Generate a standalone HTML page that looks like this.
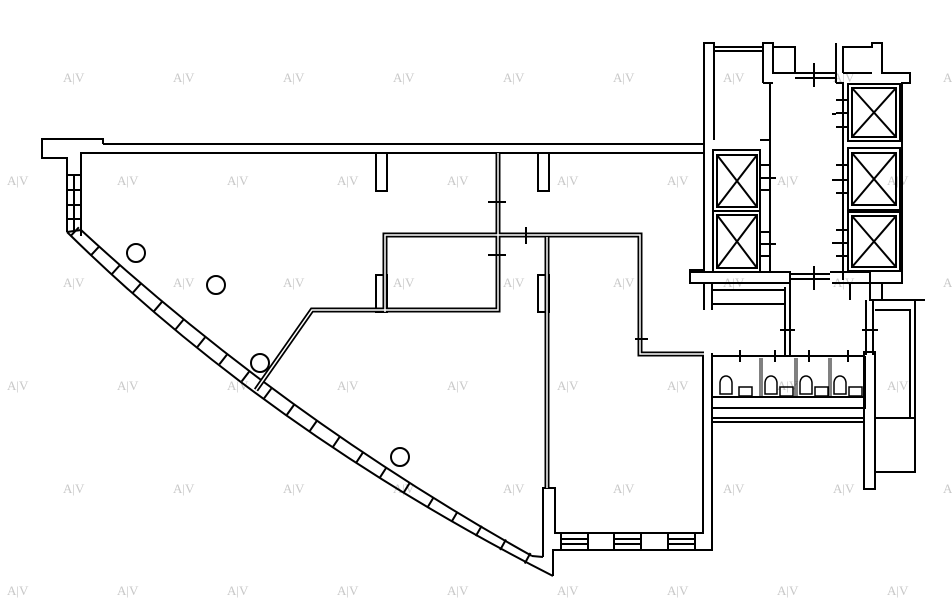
<!DOCTYPE html>
<html><head><style>
html,body{margin:0;padding:0;background:#fff;width:952px;height:609px;overflow:hidden}
svg{display:block}
.w{font-family:"Liberation Serif",serif;font-size:13px;fill:#c8c8c8}
</style></head><body>
<svg width="952" height="609" viewBox="0 0 952 609" xmlns="http://www.w3.org/2000/svg">
<g class="w">
<text x="63" y="82">A|V</text><text x="173" y="82">A|V</text><text x="283" y="82">A|V</text><text x="393" y="82">A|V</text><text x="503" y="82">A|V</text><text x="613" y="82">A|V</text><text x="723" y="82">A|V</text><text x="833" y="82">A|V</text><text x="943" y="82">A|V</text>
<text x="7" y="185">A|V</text><text x="117" y="185">A|V</text><text x="227" y="185">A|V</text><text x="337" y="185">A|V</text><text x="447" y="185">A|V</text><text x="557" y="185">A|V</text><text x="667" y="185">A|V</text><text x="777" y="185">A|V</text><text x="887" y="185">A|V</text>
<text x="63" y="287">A|V</text><text x="173" y="287">A|V</text><text x="283" y="287">A|V</text><text x="393" y="287">A|V</text><text x="503" y="287">A|V</text><text x="613" y="287">A|V</text><text x="723" y="287">A|V</text><text x="833" y="287">A|V</text><text x="943" y="287">A|V</text>
<text x="7" y="390">A|V</text><text x="117" y="390">A|V</text><text x="227" y="390">A|V</text><text x="337" y="390">A|V</text><text x="447" y="390">A|V</text><text x="557" y="390">A|V</text><text x="667" y="390">A|V</text><text x="777" y="390">A|V</text><text x="887" y="390">A|V</text>
<text x="63" y="493">A|V</text><text x="173" y="493">A|V</text><text x="283" y="493">A|V</text><text x="393" y="493">A|V</text><text x="503" y="493">A|V</text><text x="613" y="493">A|V</text><text x="723" y="493">A|V</text><text x="833" y="493">A|V</text><text x="943" y="493">A|V</text>
<text x="7" y="595">A|V</text><text x="117" y="595">A|V</text><text x="227" y="595">A|V</text><text x="337" y="595">A|V</text><text x="447" y="595">A|V</text><text x="557" y="595">A|V</text><text x="667" y="595">A|V</text><text x="777" y="595">A|V</text><text x="887" y="595">A|V</text>
</g>
<g fill="none" stroke="#000" stroke-width="2">
<!-- top outer wall -->
<path d="M103,144 H704 V153 H81 V236 M103,144 V139 H42 V158 H67 V232"/>
<path d="M67,175 H81 M67,190 H81 M67,205 H81 M67,219 H81 M74,175 V232"/>
<!-- curved wall -->
<path d="M67,232 Q270,432 553,576"/>
<path d="M81,230 Q285,418 532,556"/>
<path d="M74,231 Q278,425 542,566" stroke-width="12" stroke-dasharray="2 26"/>
<path d="M67,232 L81,230"/>
<!-- right end of curve, column -->
<path d="M553,576 V550 H712 V353 M543,557 V488 H555 V533 H703 V356"/>
<path d="M532,556 L543,557"/>
<!-- bottom windows -->
<path d="M561,533 V550 M588,533 V550 M614,533 V550 M641,533 V550 M668,533 V550 M695,533 V550"/>
<path d="M561,539 H588 M561,544 H588 M614,539 H641 M614,544 H641 M668,539 H695 M668,544 H695"/>
<!-- right side of top wall -->
<path d="M704,153 V270 H690 V283 H704 V310 M712,283 V310"/>
<!-- pillars -->
<rect x="376" y="153" width="11" height="38"/>
<rect x="538" y="153" width="11" height="38"/>
<rect x="376" y="275" width="11" height="37"/>
<rect x="538" y="275" width="11" height="37"/>
<!-- circles -->
<circle cx="136" cy="253" r="9"/><circle cx="216" cy="285" r="9"/><circle cx="260" cy="363" r="9"/><circle cx="400" cy="457" r="9"/>
</g>
<!-- interior double walls -->
<g fill="none" stroke-linejoin="miter">
<path id="iw" d="M498,153 V310 H312 L256,390 M385,312 V235 H640 V354 H704 M547,237 V488" stroke="#000" stroke-width="5"/>
<path d="M498,153 V310 H312 L256,390 M385,312 V235 H640 V354 H704 M547,237 V488" stroke="#fff" stroke-width="1.5"/>
</g>
<g stroke="#000" stroke-width="2" fill="none">
<path d="M488,202 H506 M488,255 H506 M526,227 V244 M635,339 H648"/>
<!-- core left -->
<path d="M704,143 V43 H714 V140 M714,47 H763 M714,51 H763 M763,83 V43 H773 V73 H795 V47 H773"/>
<path d="M773,83 H763 M770,83 V140 M795,73 H836 M795,78 H836 M814,63 V87"/>
<path d="M713,150 H760 V272 H713 Z M713,211 H760"/>
<rect x="717" y="155" width="40" height="52"/><path d="M717,155 L757,207 M757,155 L717,207"/>
<rect x="717" y="215" width="40" height="53"/><path d="M717,215 L757,268 M757,215 L717,268"/>
<path d="M760,140 H770 V272 M760,165 H770 M760,178 H776 M760,190 H770 M760,232 H770 M760,244 H776 M760,256 H770"/>
<!-- core right -->
<path d="M836,83 V43 M843,280 V83 H836 M843,73 V47 H872 V43 H882 V73 H910 V83 H902 V283 H870"/>
<path d="M843,73 H872"/>
<rect x="848" y="84" width="52" height="57"/><rect x="852" y="88" width="44" height="49"/><path d="M852,88 L896,137 M896,88 L852,137"/>
<rect x="848" y="148" width="52" height="62"/><rect x="852" y="153" width="44" height="52"/><path d="M852,153 L896,205 M896,153 L852,205"/>
<rect x="848" y="212" width="52" height="59"/><rect x="852" y="216" width="44" height="51"/><path d="M852,216 L896,267 M896,216 L852,267"/>
<path d="M836,100 H848 M836,113 H848 M832,114 H836 M836,127 H848 M836,165 H848 M832,180 H848 M836,193 H848 M836,230 H848 M832,243 H848 M836,256 H848"/>
<!-- bottom core ledge -->
<path d="M690,272 H790 V283 H704 M790,274 H830 M790,279 H830 M814,266 V290 M830,272 H870 V300 H882 V283 M832,283 H850 V300 M870,283 H850"/>
<path d="M712,290 H785 M712,304 H785 V287 M785,304 V355 M790,283 V355 M780,330 H795"/>
<path d="M866,300 V355 M873,300 V355 M862,330 H878"/>
<path d="M882,300 H925 M915,300 V472 H875 M875,418 H915 M875,310 H910 V418"/>
<!-- restroom -->
<path d="M712,356 H865 M712,397 H865 M712,408 H865 V356 M712,418 H865 M712,422 H865"/>
<rect x="864" y="352" width="11" height="137"/>
<path d="M740,350 V362 M775,350 V362 M809,350 V362 M848,350 V362"/>
<path d="M760,358 V397 M762,358 V397 M795,358 V397 M797,358 V397 M829,358 V397 M831,358 V397" stroke-width="1"/>
</g>
<g fill="none" stroke="#000" stroke-width="1.5">
<path d="M720,394 V383 A6,7 0 0 1 732,383 V394 Z"/><rect x="739" y="387" width="13" height="9"/>
<path d="M765,394 V383 A6,7 0 0 1 777,383 V394 Z"/><rect x="780" y="387" width="13" height="9"/>
<path d="M800,394 V383 A6,7 0 0 1 812,383 V394 Z"/><rect x="815" y="387" width="13" height="9"/>
<path d="M834,394 V383 A6,7 0 0 1 846,383 V394 Z"/><rect x="849" y="387" width="13" height="9"/>
</g>
</svg>
</body></html>
